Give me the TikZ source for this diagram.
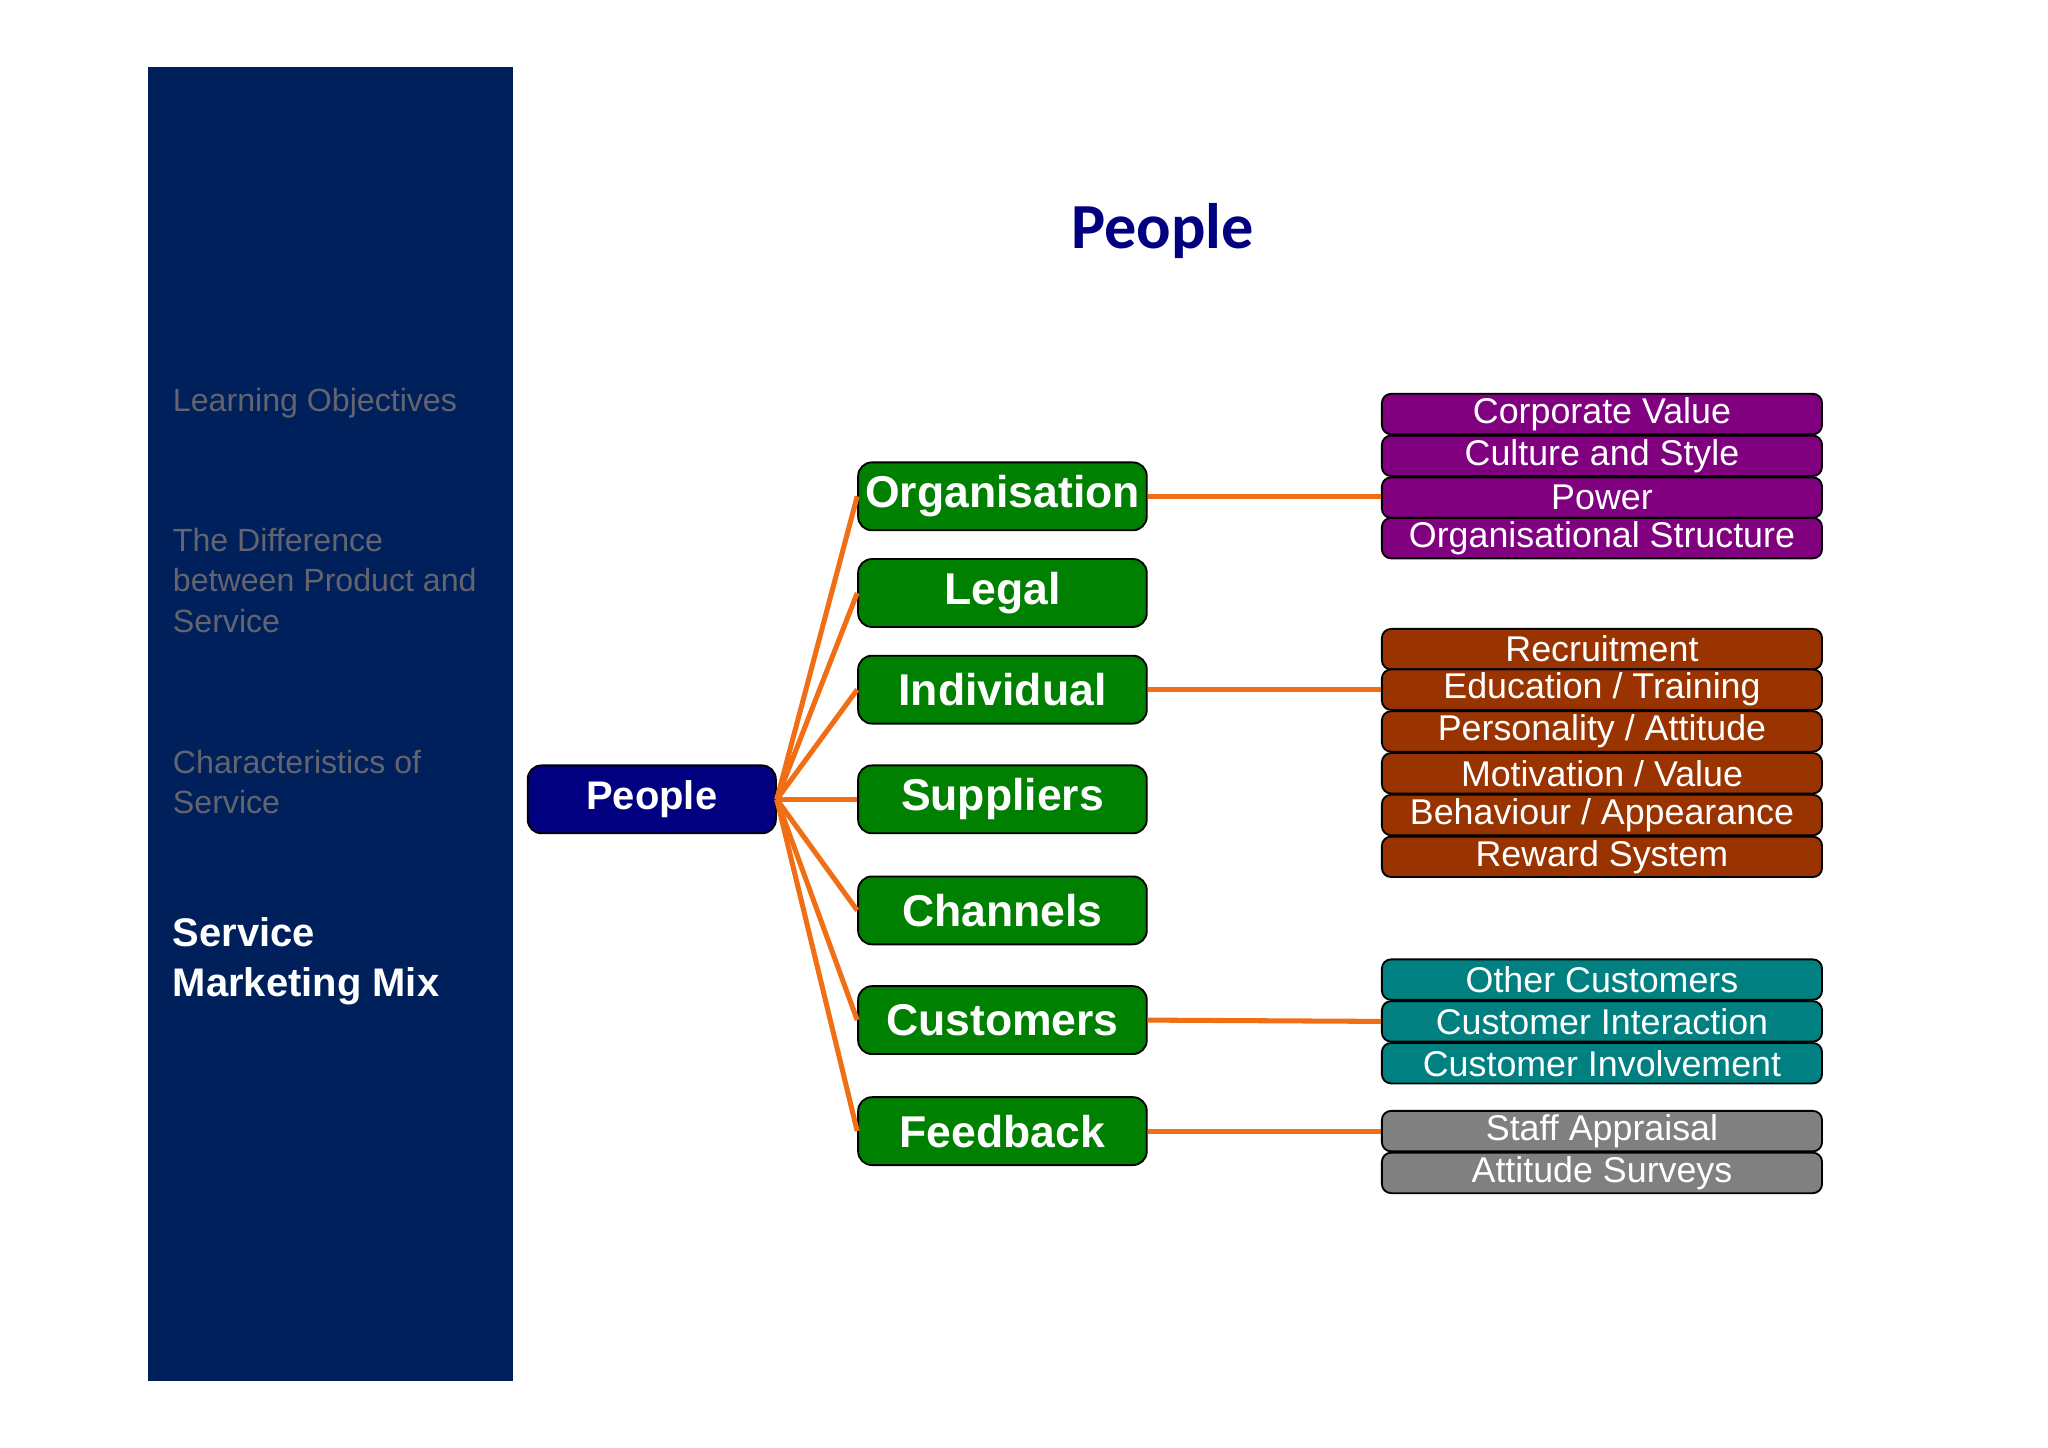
\documentclass[tikz,border=0pt]{standalone}
\usepackage{fontspec}
\setmainfont{Liberation Sans}
\newfontfamily\titlefont{Carlito}
\usetikzlibrary{positioning}
\definecolor{sidebar}{RGB}{0,32,91}
\definecolor{navyblue}{RGB}{0,0,128}
\definecolor{greenbox}{RGB}{0,128,0}
\definecolor{purplebox}{RGB}{128,0,128}
\definecolor{brownbox}{RGB}{153,51,0}
\definecolor{tealbox}{RGB}{0,128,128}
\definecolor{greybox}{RGB}{128,128,128}
\definecolor{link}{RGB}{240,110,20}
\definecolor{sidetext}{RGB}{100,100,110}
\tikzset{
  rootbox/.style={draw=black, fill=navyblue, rounded corners=3pt, minimum width=1.9cm, minimum height=0.52cm, text=white, font=\fontsize{8.7}{10}\selectfont\bfseries, inner sep=0pt},
  areabox/.style={draw=black, fill=greenbox, rounded corners=3pt, minimum width=2.21cm, minimum height=0.52cm, text=white, font=\fontsize{9.7}{11}\selectfont\bfseries, inner sep=0pt},
  itembox/.style={draw=black, fill=#1, rounded corners=2pt, minimum width=3.37cm, minimum height=0.31cm, text=white, font=\fontsize{7.8}{8}\selectfont, inner sep=0pt},
  conn/.style={draw=link, line width=1.1pt},
  sidelabel/.style={anchor=north west, align=left, text=sidetext, font=\fontsize{7}{8.8}\selectfont}
}
\begin{document}
\begin{tikzpicture}[x=1cm,y=-1cm]
\useasboundingbox (0,0) rectangle (15.68,11.08);
\fill[sidebar] (1.13,0.51) rectangle (3.93,10.57);

% sidebar texts
\node[sidelabel] (lo) at (1.2,2.85) {Learning Objectives};
\node[sidelabel] (diff) at (1.2,3.92) {The Difference\\between Product and\\Service};
\node[sidelabel] (char) at (1.2,5.62) {Characteristics of\\Service};
\node[sidelabel, text=white, font=\fontsize{8.7}{11}\selectfont\bfseries] (smm) at (1.2,6.9) {Service\\Marketing Mix};

\node[text=navyblue, font=\fontsize{14}{16}\selectfont\titlefont\bfseries] (title) at (8.9,1.77) {People};

% tree
\node[rootbox] (people) at (4.99,6.12) {People};
\node[areabox] (org) at (7.675,3.80) {Organisation};
\node[areabox] (legal) at (7.675,4.54) {Legal};
\node[areabox] (ind) at (7.675,5.28) {Individual};
\node[areabox] (sup) at (7.675,6.12) {Suppliers};
\node[areabox] (chan) at (7.675,6.97) {Channels};
\node[areabox] (cust) at (7.675,7.81) {Customers};
\node[areabox] (feed) at (7.675,8.66) {Feedback};

\foreach \n in {org,legal,ind,sup,chan,cust,feed}
  \draw[conn] (people.east) -- (\n.west);

% item groups
\node[itembox=purplebox] (cv) at (12.265,3.17) {Corporate Value};
\node[itembox=purplebox] (cs) at (12.265,3.49) {Culture and Style};
\node[itembox=purplebox] (pow) at (12.265,3.81) {Power};
\node[itembox=purplebox] (os) at (12.265,4.12) {Organisational Structure};

\node[itembox=brownbox] (rec) at (12.265,4.97) {Recruitment};
\node[itembox=brownbox] (edu) at (12.265,5.28) {Education / Training};
\node[itembox=brownbox] (pers) at (12.265,5.60) {Personality / Attitude};
\node[itembox=brownbox] (mot) at (12.265,5.92) {Motivation / Value};
\node[itembox=brownbox] (beh) at (12.265,6.24) {Behaviour / Appearance};
\node[itembox=brownbox] (rew) at (12.265,6.56) {Reward System};

\node[itembox=tealbox] (oc) at (12.265,7.50) {Other Customers};
\node[itembox=tealbox] (ci) at (12.265,7.82) {Customer Interaction};
\node[itembox=tealbox] (cinv) at (12.265,8.14) {Customer Involvement};

\node[itembox=greybox] (sa) at (12.265,8.66) {Staff Appraisal};
\node[itembox=greybox] (as) at (12.265,8.98) {Attitude Surveys};

\draw[conn] (org.east) -- (org.east -| pow.west);
\draw[conn] (ind.east) -- (edu.west);
\draw[conn] (cust.east) -- (ci.west);
\draw[conn] (feed.east) -- (sa.west);

\end{tikzpicture}
\end{document}
